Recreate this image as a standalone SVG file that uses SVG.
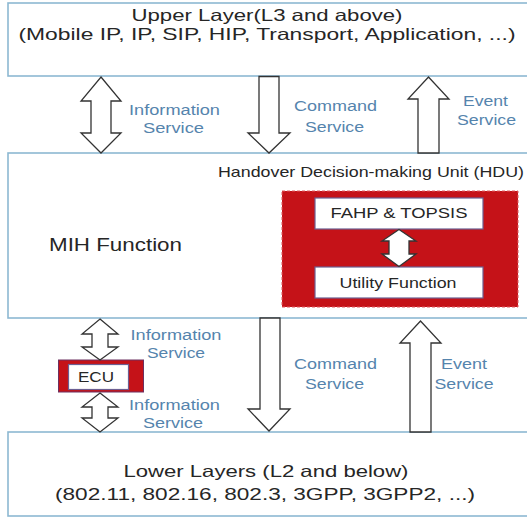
<svg xmlns="http://www.w3.org/2000/svg" width="527" height="519" viewBox="0 0 527 519">
<style>
.layer{fill:#fff;stroke:#8db8d2;stroke-width:1.6}
.t{font-family:"Liberation Sans",Arial,sans-serif;fill:#262626}
.lbl{font-family:"Liberation Sans",Arial,sans-serif;fill:#5584ad;font-size:14px}
.arr{fill:#fff;stroke:#333;stroke-width:1.3;stroke-linejoin:miter}
.inner{fill:#fff;stroke:#6c5f92;stroke-width:1.2}
</style>
<rect width="527" height="519" fill="#fff"/>
<g id="upper">
<rect class="layer" x="8" y="3" width="524" height="73"/>
<text class="t" x="267" y="21" font-size="16.5" text-anchor="middle" textLength="271" lengthAdjust="spacingAndGlyphs">Upper Layer(L3 and above)</text>
<text class="t" x="267" y="40" font-size="16.5" text-anchor="middle" textLength="497" lengthAdjust="spacingAndGlyphs">(Mobile IP, IP, SIP, HIP, Transport, Application, ...)</text>
</g>
<g id="mih">
<rect class="layer" x="8" y="153" width="524" height="165"/>
<text class="t" x="49" y="251" font-size="18.5" textLength="133" lengthAdjust="spacingAndGlyphs">MIH Function</text>
<text class="t" x="218" y="176.5" font-size="14.5" textLength="306" lengthAdjust="spacingAndGlyphs">Handover Decision-making Unit (HDU)</text>
</g>
<g id="hdu">
<rect x="282" y="191" width="236" height="116" fill="#c51218" stroke="#e05a5e" stroke-width="1" stroke-dasharray="3,2"/>
</g>
<g id="fahp">
<rect class="inner" x="315" y="198" width="168" height="31"/>
<text class="t" x="399" y="218" font-size="14" text-anchor="middle" textLength="137" lengthAdjust="spacingAndGlyphs">FAHP &amp; TOPSIS</text>
</g>
<g id="utility">
<rect class="inner" x="315" y="267" width="168" height="31"/>
<text class="t" x="398" y="288" font-size="14" text-anchor="middle" textLength="117" lengthAdjust="spacingAndGlyphs">Utility Function</text>
</g>
<g id="ecu">
<rect x="58.5" y="360" width="85" height="32" fill="#c51218" stroke="#6c3060" stroke-width="1"/>
<rect class="inner" x="68.5" y="364.5" width="60" height="25"/>
<text class="t" x="96" y="382" font-size="15" text-anchor="middle" textLength="36" lengthAdjust="spacingAndGlyphs">ECU</text>
</g>
<g id="lower">
<rect class="layer" x="8" y="432" width="524" height="84"/>
<text class="t" x="266" y="477" font-size="16.5" text-anchor="middle" textLength="285" lengthAdjust="spacingAndGlyphs">Lower Layers (L2 and below)</text>
<text class="t" x="265" y="500" font-size="16.5" text-anchor="middle" textLength="420" lengthAdjust="spacingAndGlyphs">(802.11, 802.16, 802.3, 3GPP, 3GPP2, ...)</text>
</g>
<g id="connectors">
<polygon class="arr" points="101,77 121,101 111,101 111,133 121,133 101,153 81,133 91,133 91,101 81,101"/>
<polygon class="arr" points="259,76.5 279,76.5 279,133 290,133 269,153 248,133 259,133"/>
<polygon class="arr" points="428.5,77 449,99 439,99 439,153 418,153 418,99 408,99"/>
<polygon class="arr" points="399,229.5 416,241 409,241 409,254 416,254 399,266.5 382,254 389,254 389,241 382,241"/>
<polygon class="arr" points="100,319 118,334 108,334 108,347 118,347 100,360 82,347 92,347 92,334 82,334"/>
<polygon class="arr" points="100,393 118,407 108,407 108,418 118,418 100,432 82,418 92,418 92,407 82,407"/>
<polygon class="arr" points="260,318 280,318 280,409 290,409 269,431 248,409 260,409"/>
<polygon class="arr" points="420.5,321 441,343 431,343 431,432 410,432 410,343 400,343"/>
</g>
<g id="labels">
<text class="lbl" x="174.5" y="115" text-anchor="middle" textLength="91" lengthAdjust="spacingAndGlyphs">Information</text>
<text class="lbl" x="173.5" y="133" text-anchor="middle" textLength="61" lengthAdjust="spacingAndGlyphs">Service</text>
<text class="lbl" x="335.5" y="111" text-anchor="middle" textLength="83" lengthAdjust="spacingAndGlyphs">Command</text>
<text class="lbl" x="334.5" y="132" text-anchor="middle" textLength="59" lengthAdjust="spacingAndGlyphs">Service</text>
<text class="lbl" x="485.5" y="106" text-anchor="middle" textLength="45" lengthAdjust="spacingAndGlyphs">Event</text>
<text class="lbl" x="486.5" y="125" text-anchor="middle" textLength="59" lengthAdjust="spacingAndGlyphs">Service</text>
<text class="lbl" x="176" y="339.5" text-anchor="middle" textLength="91" lengthAdjust="spacingAndGlyphs">Information</text>
<text class="lbl" x="176" y="357.5" text-anchor="middle" textLength="58" lengthAdjust="spacingAndGlyphs">Service</text>
<text class="lbl" x="174.5" y="410" text-anchor="middle" textLength="91" lengthAdjust="spacingAndGlyphs">Information</text>
<text class="lbl" x="173" y="428" text-anchor="middle" textLength="60" lengthAdjust="spacingAndGlyphs">Service</text>
<text class="lbl" x="335.5" y="369" text-anchor="middle" textLength="83" lengthAdjust="spacingAndGlyphs">Command</text>
<text class="lbl" x="334.5" y="389" text-anchor="middle" textLength="59" lengthAdjust="spacingAndGlyphs">Service</text>
<text class="lbl" x="464" y="369" text-anchor="middle" textLength="46" lengthAdjust="spacingAndGlyphs">Event</text>
<text class="lbl" x="464" y="389" text-anchor="middle" textLength="59" lengthAdjust="spacingAndGlyphs">Service</text>
</g>
</svg>
